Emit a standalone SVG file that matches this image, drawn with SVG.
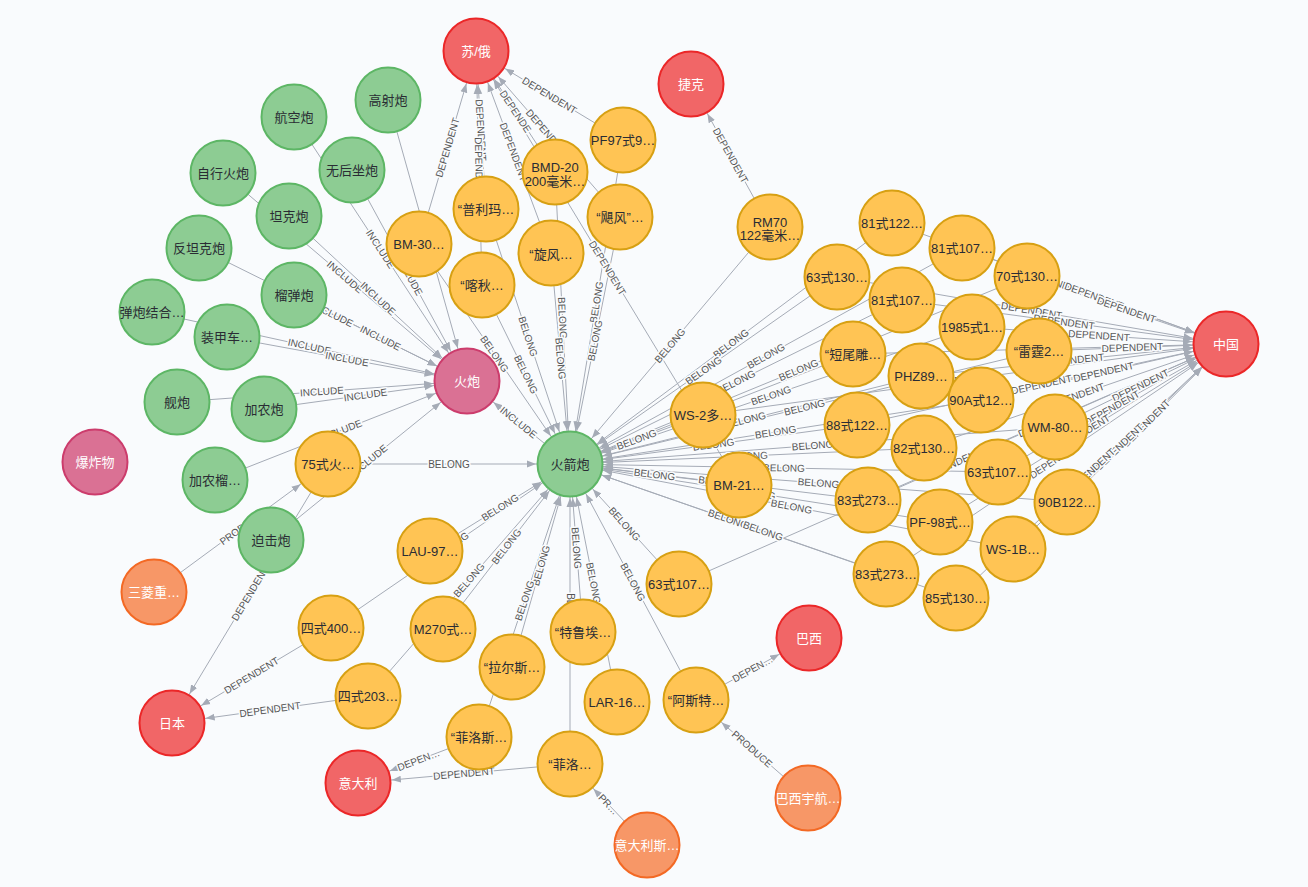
<svg xmlns="http://www.w3.org/2000/svg" width="1308" height="887" viewBox="0 0 1308 887">
<defs>
<marker id="arr" markerUnits="userSpaceOnUse" markerWidth="10" markerHeight="8" refX="43" refY="4" orient="auto"><path d="M0,0.5 L9,4 L0,7.5 Z" fill="#a5abb6"/></marker>
<style>
.e line{stroke:#a5abb6;stroke-width:1;marker-end:url(#arr)}
.lb text{font-family:"Liberation Sans","Noto Sans",sans-serif;font-size:10px;fill:#555;text-anchor:middle;stroke:#f9fbfd;stroke-width:3;paint-order:stroke;stroke-linejoin:round}
.n circle{stroke-width:2}
.n text{font-family:"Liberation Sans","Noto Sans CJK SC",sans-serif;font-size:13px;text-anchor:middle}
.red circle{fill:#f16667;stroke:#eb2728}
.pink circle{fill:#da7194;stroke:#cc3c6c}
.grn circle{fill:#8dcc93;stroke:#5db665}
.org circle{fill:#f79767;stroke:#f36924}
.yel circle{fill:#ffc454;stroke:#d7a013}
.red text,.pink text,.org text{fill:#ffffff}
.grn text,.yel text{fill:#2a2c34}
</style>
</defs>
<rect width="1308" height="887" fill="#f9fbfd"/>
<g id="connectors">
<g class="e">
<line x1="388" y1="100" x2="467" y2="381"/>
<line x1="294" y1="117" x2="467" y2="381"/>
<line x1="223" y1="173" x2="467" y2="381"/>
<line x1="352" y1="170" x2="467" y2="381"/>
<line x1="289" y1="216" x2="467" y2="381"/>
<line x1="199" y1="248" x2="467" y2="381"/>
<line x1="294" y1="295" x2="467" y2="381"/>
<line x1="152" y1="312" x2="467" y2="381"/>
<line x1="227" y1="337" x2="467" y2="381"/>
<line x1="177" y1="402" x2="467" y2="381"/>
<line x1="264" y1="409" x2="467" y2="381"/>
<line x1="215" y1="480" x2="467" y2="381"/>
<line x1="271" y1="540" x2="467" y2="381"/>
<line x1="570" y1="464" x2="467" y2="381"/>
<line x1="328" y1="464" x2="570" y2="464"/>
<line x1="419" y1="244" x2="570" y2="464"/>
<line x1="486" y1="209" x2="570" y2="464"/>
<line x1="482" y1="285" x2="570" y2="464"/>
<line x1="555" y1="172" x2="570" y2="464"/>
<line x1="623" y1="140" x2="570" y2="464"/>
<line x1="620" y1="217" x2="570" y2="464"/>
<line x1="551" y1="253" x2="570" y2="464"/>
<line x1="770" y1="227" x2="570" y2="464"/>
<line x1="892" y1="223" x2="570" y2="464"/>
<line x1="962" y1="248" x2="570" y2="464"/>
<line x1="837" y1="277" x2="570" y2="464"/>
<line x1="1027" y1="276" x2="570" y2="464"/>
<line x1="902" y1="300" x2="570" y2="464"/>
<line x1="972" y1="327" x2="570" y2="464"/>
<line x1="853" y1="354" x2="570" y2="464"/>
<line x1="1039" y1="351" x2="570" y2="464"/>
<line x1="921" y1="376" x2="570" y2="464"/>
<line x1="981" y1="400" x2="570" y2="464"/>
<line x1="703" y1="415" x2="570" y2="464"/>
<line x1="857" y1="425" x2="570" y2="464"/>
<line x1="1055" y1="427" x2="570" y2="464"/>
<line x1="924" y1="448" x2="570" y2="464"/>
<line x1="998" y1="472" x2="570" y2="464"/>
<line x1="739" y1="485" x2="570" y2="464"/>
<line x1="868" y1="500" x2="570" y2="464"/>
<line x1="1067" y1="502" x2="570" y2="464"/>
<line x1="940" y1="522" x2="570" y2="464"/>
<line x1="1013" y1="549" x2="570" y2="464"/>
<line x1="886" y1="574" x2="570" y2="464"/>
<line x1="956" y1="598" x2="570" y2="464"/>
<line x1="679" y1="584" x2="570" y2="464"/>
<line x1="430" y1="551" x2="570" y2="464"/>
<line x1="331" y1="628" x2="570" y2="464"/>
<line x1="443" y1="629" x2="570" y2="464"/>
<line x1="368" y1="696" x2="570" y2="464"/>
<line x1="512" y1="667" x2="570" y2="464"/>
<line x1="583" y1="632" x2="570" y2="464"/>
<line x1="617" y1="702" x2="570" y2="464"/>
<line x1="696" y1="700" x2="570" y2="464"/>
<line x1="479" y1="737" x2="570" y2="464"/>
<line x1="570" y1="764" x2="570" y2="464"/>
<line x1="419" y1="244" x2="476" y2="51"/>
<line x1="486" y1="209" x2="476" y2="51"/>
<line x1="482" y1="285" x2="476" y2="51"/>
<line x1="555" y1="172" x2="476" y2="51"/>
<line x1="551" y1="253" x2="476" y2="51"/>
<line x1="620" y1="217" x2="476" y2="51"/>
<line x1="623" y1="140" x2="476" y2="51"/>
<line x1="739" y1="485" x2="476" y2="51"/>
<line x1="770" y1="227" x2="691" y2="84"/>
<line x1="328" y1="464" x2="172" y2="723"/>
<line x1="331" y1="628" x2="172" y2="723"/>
<line x1="368" y1="696" x2="172" y2="723"/>
<line x1="479" y1="737" x2="358" y2="783"/>
<line x1="570" y1="764" x2="358" y2="783"/>
<line x1="696" y1="700" x2="809" y2="638"/>
<line x1="892" y1="223" x2="1226" y2="344"/>
<line x1="962" y1="248" x2="1226" y2="344"/>
<line x1="837" y1="277" x2="1226" y2="344"/>
<line x1="1027" y1="276" x2="1226" y2="344"/>
<line x1="902" y1="300" x2="1226" y2="344"/>
<line x1="972" y1="327" x2="1226" y2="344"/>
<line x1="853" y1="354" x2="1226" y2="344"/>
<line x1="1039" y1="351" x2="1226" y2="344"/>
<line x1="921" y1="376" x2="1226" y2="344"/>
<line x1="981" y1="400" x2="1226" y2="344"/>
<line x1="703" y1="415" x2="1226" y2="344"/>
<line x1="857" y1="425" x2="1226" y2="344"/>
<line x1="1055" y1="427" x2="1226" y2="344"/>
<line x1="924" y1="448" x2="1226" y2="344"/>
<line x1="998" y1="472" x2="1226" y2="344"/>
<line x1="868" y1="500" x2="1226" y2="344"/>
<line x1="1067" y1="502" x2="1226" y2="344"/>
<line x1="940" y1="522" x2="1226" y2="344"/>
<line x1="1013" y1="549" x2="1226" y2="344"/>
<line x1="886" y1="574" x2="1226" y2="344"/>
<line x1="956" y1="598" x2="1226" y2="344"/>
<line x1="679" y1="584" x2="1226" y2="344"/>
<line x1="154" y1="592" x2="328" y2="464"/>
<line x1="647" y1="845" x2="570" y2="764"/>
<line x1="808" y1="798" x2="696" y2="700"/>
</g>
<g class="lb">
<text transform="translate(427.5,241) rotate(74.2)" dy="3.5">INCLUDE</text>
<text transform="translate(380.5,249) rotate(56.8)" dy="3.5">INCLUDE</text>
<text transform="translate(345,277) rotate(40.4)" dy="3.5">INCLUDE</text>
<text transform="translate(409.5,275.5) rotate(61.4)" dy="3.5">INCLUDE</text>
<text transform="translate(378,298.5) rotate(42.8)" dy="3.5">INCLUDE</text>
<text transform="translate(333,314.5) rotate(26.4)" dy="3.5">INCLUDE</text>
<text transform="translate(380.5,338) rotate(26.4)" dy="3.5">INCLUDE</text>
<text transform="translate(309.5,346.5) rotate(12.4)" dy="3.5">INCLUDE</text>
<text transform="translate(347,359) rotate(10.4)" dy="3.5">INCLUDE</text>
<text transform="translate(322,391.5) rotate(-4.1)" dy="3.5">INCLUDE</text>
<text transform="translate(365.5,395) rotate(-7.9)" dy="3.5">INCLUDE</text>
<text transform="translate(341,430.5) rotate(-21.4)" dy="3.5">INCLUDE</text>
<text transform="translate(369,460.5) rotate(-39.1)" dy="3.5">INCLUDE</text>
<text transform="translate(518.5,422.5) rotate(38.9)" dy="3.5">INCLUDE</text>
<text transform="translate(449,464) rotate(0)" dy="3.5">BELONG</text>
<text transform="translate(494.5,354) rotate(55.5)" dy="3.5">BELONG</text>
<text transform="translate(528,336.5) rotate(71.8)" dy="3.5">BELONG</text>
<text transform="translate(526,374.5) rotate(63.8)" dy="3.5">BELONG</text>
<text transform="translate(562.5,318) rotate(87.1)" dy="3.5">BELONG</text>
<text transform="translate(596.5,302) rotate(-80.7)" dy="3.5">BELONG</text>
<text transform="translate(595,340.5) rotate(-78.6)" dy="3.5">BELONG</text>
<text transform="translate(560.5,358.5) rotate(84.9)" dy="3.5">BELONG</text>
<text transform="translate(670,345.5) rotate(-49.8)" dy="3.5">BELONG</text>
<text transform="translate(731,343.5) rotate(-36.8)" dy="3.5">BELONG</text>
<text transform="translate(766,356) rotate(-28.9)" dy="3.5">BELONG</text>
<text transform="translate(703.5,370.5) rotate(-35)" dy="3.5">BELONG</text>
<text transform="translate(798.5,370) rotate(-22.4)" dy="3.5">BELONG</text>
<text transform="translate(736,382) rotate(-26.3)" dy="3.5">BELONG</text>
<text transform="translate(771,395.5) rotate(-18.8)" dy="3.5">BELONG</text>
<text transform="translate(711.5,409) rotate(-21.2)" dy="3.5">BELONG</text>
<text transform="translate(804.5,407.5) rotate(-13.5)" dy="3.5">BELONG</text>
<text transform="translate(745.5,420) rotate(-14.1)" dy="3.5">BELONG</text>
<text transform="translate(775.5,432) rotate(-8.9)" dy="3.5">BELONG</text>
<text transform="translate(636.5,439.5) rotate(-20.2)" dy="3.5">BELONG</text>
<text transform="translate(713.5,444.5) rotate(-7.7)" dy="3.5">BELONG</text>
<text transform="translate(812.5,445.5) rotate(-4.4)" dy="3.5">BELONG</text>
<text transform="translate(747,456) rotate(-2.6)" dy="3.5">BELONG</text>
<text transform="translate(784,468) rotate(1.1)" dy="3.5">BELONG</text>
<text transform="translate(654.5,474.5) rotate(7.1)" dy="3.5">BELONG</text>
<text transform="translate(719,482) rotate(6.9)" dy="3.5">BELONG</text>
<text transform="translate(818.5,483) rotate(4.4)" dy="3.5">BELONG</text>
<text transform="translate(755,493) rotate(8.9)" dy="3.5">BELONG</text>
<text transform="translate(791.5,506.5) rotate(10.9)" dy="3.5">BELONG</text>
<text transform="translate(728,519) rotate(19.2)" dy="3.5">BELONG</text>
<text transform="translate(763,531) rotate(19.1)" dy="3.5">BELONG</text>
<text transform="translate(624.5,524) rotate(47.8)" dy="3.5">BELONG</text>
<text transform="translate(500,507.5) rotate(-31.9)" dy="3.5">BELONG</text>
<text transform="translate(450.5,546) rotate(-34.5)" dy="3.5">BELONG</text>
<text transform="translate(506.5,546.5) rotate(-52.4)" dy="3.5">BELONG</text>
<text transform="translate(469,580) rotate(-48.9)" dy="3.5">BELONG</text>
<text transform="translate(541,565.5) rotate(-74.1)" dy="3.5">BELONG</text>
<text transform="translate(576.5,548) rotate(85.6)" dy="3.5">BELONG</text>
<text transform="translate(593.5,583) rotate(78.8)" dy="3.5">BELONG</text>
<text transform="translate(633,582) rotate(61.9)" dy="3.5">BELONG</text>
<text transform="translate(524.5,600.5) rotate(-71.6)" dy="3.5">BELONG</text>
<text transform="translate(570,614) rotate(90)" dy="3.5">BELONG</text>
<text transform="translate(447.5,147.5) rotate(-73.5)" dy="3.5">DEPENDENT</text>
<text transform="translate(481,130) rotate(86.4)" dy="3.5">DEPENDENT</text>
<text transform="translate(479,168) rotate(88.5)" dy="3.5">DEPENDENT</text>
<text transform="translate(515.5,111.5) rotate(56.9)" dy="3.5">DEPENDE</text>
<text transform="translate(513.5,152) rotate(69.6)" dy="3.5">DEPENDENT</text>
<text transform="translate(548,134) rotate(49.1)" dy="3.5">DEPENDENT</text>
<text transform="translate(549.5,95.5) rotate(31.2)" dy="3.5">DEPENDENT</text>
<text transform="translate(607.5,268) rotate(58.8)" dy="3.5">DEPENDENT</text>
<text transform="translate(730.5,155.5) rotate(61.1)" dy="3.5">DEPENDENT</text>
<text transform="translate(250,593.5) rotate(-58.9)" dy="3.5">DEPENDENT</text>
<text transform="translate(251.5,675.5) rotate(-30.9)" dy="3.5">DEPENDENT</text>
<text transform="translate(270,709.5) rotate(-7.8)" dy="3.5">DEPENDENT</text>
<text transform="translate(418.5,760) rotate(-20.8)" dy="3.5">DEPEN…</text>
<text transform="translate(464,773.5) rotate(-5.1)" dy="3.5">DEPENDENT</text>
<text transform="translate(752.5,669) rotate(-28.8)" dy="3.5">DEPEN…</text>
<text transform="translate(1059,283.5) rotate(20.1)" dy="3.5">DEPENDENT</text>
<text transform="translate(1094,296) rotate(20.2)" dy="3.5">DEPENDENT</text>
<text transform="translate(1031.5,310.5) rotate(9.8)" dy="3.5">DEPENDENT</text>
<text transform="translate(1126.5,310) rotate(18.9)" dy="3.5">DEPENDENT</text>
<text transform="translate(1064,322) rotate(7.7)" dy="3.5">DEPENDENT</text>
<text transform="translate(1099,335.5) rotate(3.8)" dy="3.5">DEPENDENT</text>
<text transform="translate(1039.5,349) rotate(-1.5)" dy="3.5">DEPENDENT</text>
<text transform="translate(1132.5,347.5) rotate(-2.1)" dy="3.5">DEPENDENT</text>
<text transform="translate(1073.5,360) rotate(-6)" dy="3.5">DEPENDENT</text>
<text transform="translate(1103.5,372) rotate(-12.9)" dy="3.5">DEPENDENT</text>
<text transform="translate(964.5,379.5) rotate(-7.7)" dy="3.5">DEPENDENT</text>
<text transform="translate(1041.5,384.5) rotate(-12.3)" dy="3.5">DEPENDENT</text>
<text transform="translate(1140.5,385.5) rotate(-25.9)" dy="3.5">DEPENDENT</text>
<text transform="translate(1075,396) rotate(-19)" dy="3.5">DEPENDENT</text>
<text transform="translate(1112,408) rotate(-29.3)" dy="3.5">DEPENDENT</text>
<text transform="translate(1047,422) rotate(-23.5)" dy="3.5">DEPENDENT</text>
<text transform="translate(1146.5,423) rotate(-44.8)" dy="3.5">DEPENDENT</text>
<text transform="translate(1083,433) rotate(-31.9)" dy="3.5">DEPENDENT</text>
<text transform="translate(1119.5,446.5) rotate(-43.9)" dy="3.5">DEPENDENT</text>
<text transform="translate(1056,459) rotate(-34)" dy="3.5">DEPENDENT</text>
<text transform="translate(1091,471) rotate(-43.2)" dy="3.5">DEPENDENT</text>
<text transform="translate(952.5,464) rotate(-23.7)" dy="3.5">DEPENDENT</text>
<text transform="translate(241,528) rotate(-36.3)" dy="3.5">PRODUCE</text>
<text transform="translate(608.5,804.5) rotate(46.5)" dy="3.5">PR…</text>
<text transform="translate(752,749) rotate(41.2)" dy="3.5">PRODUCE</text>
</g>
</g>
<g id="nodes">
<g id="n-su" class="n red"><circle cx="476" cy="51" r="32.5"/><text x="476" y="55.5">苏/俄</text></g>
<g id="n-cz" class="n red"><circle cx="691" cy="84" r="32.5"/><text x="691" y="88.5">捷克</text></g>
<g id="n-cn" class="n red"><circle cx="1226" cy="344" r="32.5"/><text x="1226" y="348.5">中国</text></g>
<g id="n-jp" class="n red"><circle cx="172" cy="723" r="32.5"/><text x="172" y="727.5">日本</text></g>
<g id="n-it" class="n red"><circle cx="358" cy="783" r="32.5"/><text x="358" y="787.5">意大利</text></g>
<g id="n-br" class="n red"><circle cx="809" cy="638" r="32.5"/><text x="809" y="642.5">巴西</text></g>
<g id="n-huopao" class="n pink"><circle cx="467" cy="381" r="32.5"/><text x="467" y="385.5">火炮</text></g>
<g id="n-baozha" class="n pink"><circle cx="95" cy="462" r="32.5"/><text x="95" y="466.5">爆炸物</text></g>
<g id="n-hjp" class="n grn"><circle cx="570" cy="464" r="32.5"/><text x="570" y="468.5">火箭炮</text></g>
<g id="n-gsp" class="n grn"><circle cx="388" cy="100" r="32.5"/><text x="388" y="104.5">高射炮</text></g>
<g id="n-hkp" class="n grn"><circle cx="294" cy="117" r="32.5"/><text x="294" y="121.5">航空炮</text></g>
<g id="n-zxhp" class="n grn"><circle cx="223" cy="173" r="32.5"/><text x="223" y="177.5">自行火炮</text></g>
<g id="n-whzp" class="n grn"><circle cx="352" cy="170" r="32.5"/><text x="352" y="174.5">无后坐炮</text></g>
<g id="n-tkp" class="n grn"><circle cx="289" cy="216" r="32.5"/><text x="289" y="220.5">坦克炮</text></g>
<g id="n-ftkp" class="n grn"><circle cx="199" cy="248" r="32.5"/><text x="199" y="252.5">反坦克炮</text></g>
<g id="n-ldp" class="n grn"><circle cx="294" cy="295" r="32.5"/><text x="294" y="299.5">榴弹炮</text></g>
<g id="n-dpjh" class="n grn"><circle cx="152" cy="312" r="32.5"/><text x="152" y="316.5">弹炮结合…</text></g>
<g id="n-zjc" class="n grn"><circle cx="227" cy="337" r="32.5"/><text x="227" y="341.5">装甲车…</text></g>
<g id="n-jianp" class="n grn"><circle cx="177" cy="402" r="32.5"/><text x="177" y="406.5">舰炮</text></g>
<g id="n-jnp" class="n grn"><circle cx="264" cy="409" r="32.5"/><text x="264" y="413.5">加农炮</text></g>
<g id="n-jnl" class="n grn"><circle cx="215" cy="480" r="32.5"/><text x="215" y="484.5">加农榴…</text></g>
<g id="n-pjp" class="n grn"><circle cx="271" cy="540" r="32.5"/><text x="271" y="544.5">迫击炮</text></g>
<g id="n-sl" class="n org"><circle cx="154" cy="592" r="32.5"/><text x="154" y="596.5">三菱重…</text></g>
<g id="n-itc" class="n org"><circle cx="647" cy="845" r="32.5"/><text x="647" y="849.5">意大利斯…</text></g>
<g id="n-brc" class="n org"><circle cx="808" cy="798" r="32.5"/><text x="808" y="802.5">巴西宇航…</text></g>
<g id="n-bm30" class="n yel"><circle cx="419" cy="244" r="32.5"/><text x="419" y="248.5">BM-30…</text></g>
<g id="n-plm" class="n yel"><circle cx="486" cy="209" r="32.5"/><text x="486" y="213.5">“普利玛…</text></g>
<g id="n-kq" class="n yel"><circle cx="482" cy="285" r="32.5"/><text x="482" y="289.5">“喀秋…</text></g>
<g id="n-bmd20" class="n yel"><circle cx="555" cy="172" r="32.5"/><text x="555" y="172">BMD-20</text><text x="555" y="186">200毫米…</text></g>
<g id="n-pf97" class="n yel"><circle cx="623" cy="140" r="32.5"/><text x="623" y="144.5">PF97式9…</text></g>
<g id="n-jf" class="n yel"><circle cx="620" cy="217" r="32.5"/><text x="620" y="221.5">“飓风”…</text></g>
<g id="n-xf" class="n yel"><circle cx="551" cy="253" r="32.5"/><text x="551" y="259">“旋风…</text></g>
<g id="n-rm70" class="n yel"><circle cx="770" cy="227" r="32.5"/><text x="770" y="227">RM70</text><text x="770" y="240">122毫米…</text></g>
<g id="n-81-122" class="n yel"><circle cx="892" cy="223" r="32.5"/><text x="892" y="227.5">81式122…</text></g>
<g id="n-81-107a" class="n yel"><circle cx="962" cy="248" r="32.5"/><text x="962" y="252.5">81式107…</text></g>
<g id="n-63-130" class="n yel"><circle cx="837" cy="277" r="32.5"/><text x="837" y="281.5">63式130…</text></g>
<g id="n-70-130" class="n yel"><circle cx="1027" cy="276" r="32.5"/><text x="1027" y="280.5">70式130…</text></g>
<g id="n-81-107b" class="n yel"><circle cx="902" cy="300" r="32.5"/><text x="902" y="304.5">81式107…</text></g>
<g id="n-1985" class="n yel"><circle cx="972" cy="327" r="32.5"/><text x="972" y="331.5">1985式1…</text></g>
<g id="n-dwd" class="n yel"><circle cx="853" cy="354" r="32.5"/><text x="853" y="358.5">“短尾雕…</text></g>
<g id="n-lt2" class="n yel"><circle cx="1039" cy="351" r="32.5"/><text x="1039" y="355.5">“雷霆2…</text></g>
<g id="n-phz89" class="n yel"><circle cx="921" cy="376" r="32.5"/><text x="921" y="380.5">PHZ89…</text></g>
<g id="n-90a" class="n yel"><circle cx="981" cy="400" r="32.5"/><text x="981" y="404.5">90A式12…</text></g>
<g id="n-ws2" class="n yel"><circle cx="703" cy="415" r="32.5"/><text x="703" y="419.5">WS-2多…</text></g>
<g id="n-88-122" class="n yel"><circle cx="857" cy="425" r="32.5"/><text x="857" y="429.5">88式122…</text></g>
<g id="n-wm80" class="n yel"><circle cx="1055" cy="427" r="32.5"/><text x="1055" y="431.5">WM-80…</text></g>
<g id="n-82-130" class="n yel"><circle cx="924" cy="448" r="32.5"/><text x="924" y="452.5">82式130…</text></g>
<g id="n-63-107a" class="n yel"><circle cx="998" cy="472" r="32.5"/><text x="998" y="476.5">63式107…</text></g>
<g id="n-bm21" class="n yel"><circle cx="739" cy="485" r="32.5"/><text x="739" y="489.5">BM-21…</text></g>
<g id="n-83-273a" class="n yel"><circle cx="868" cy="500" r="32.5"/><text x="868" y="504.5">83式273…</text></g>
<g id="n-90b" class="n yel"><circle cx="1067" cy="502" r="32.5"/><text x="1067" y="506.5">90B122…</text></g>
<g id="n-pf98" class="n yel"><circle cx="940" cy="522" r="32.5"/><text x="940" y="526.5">PF-98式…</text></g>
<g id="n-ws1b" class="n yel"><circle cx="1013" cy="549" r="32.5"/><text x="1013" y="553.5">WS-1B…</text></g>
<g id="n-83-273b" class="n yel"><circle cx="886" cy="574" r="32.5"/><text x="886" y="578.5">83式273…</text></g>
<g id="n-85-130" class="n yel"><circle cx="956" cy="598" r="32.5"/><text x="956" y="602.5">85式130…</text></g>
<g id="n-63-107b" class="n yel"><circle cx="679" cy="584" r="32.5"/><text x="679" y="588.5">63式107…</text></g>
<g id="n-75" class="n yel"><circle cx="328" cy="464" r="32.5"/><text x="328" y="468.5">75式火…</text></g>
<g id="n-lau97" class="n yel"><circle cx="430" cy="551" r="32.5"/><text x="430" y="555.5">LAU-97…</text></g>
<g id="n-4-400" class="n yel"><circle cx="331" cy="628" r="32.5"/><text x="331" y="632.5">四式400…</text></g>
<g id="n-m270" class="n yel"><circle cx="443" cy="629" r="32.5"/><text x="443" y="633.5">M270式…</text></g>
<g id="n-4-203" class="n yel"><circle cx="368" cy="696" r="32.5"/><text x="368" y="700.5">四式203…</text></g>
<g id="n-les" class="n yel"><circle cx="512" cy="667" r="32.5"/><text x="512" y="671.5">“拉尔斯…</text></g>
<g id="n-tla" class="n yel"><circle cx="583" cy="632" r="32.5"/><text x="583" y="636.5">“特鲁埃…</text></g>
<g id="n-lar16" class="n yel"><circle cx="617" cy="702" r="32.5"/><text x="617" y="706.5">LAR-16…</text></g>
<g id="n-ast" class="n yel"><circle cx="696" cy="700" r="32.5"/><text x="696" y="704.5">“阿斯特…</text></g>
<g id="n-fls" class="n yel"><circle cx="479" cy="737" r="32.5"/><text x="479" y="741.5">“菲洛斯…</text></g>
<g id="n-fl" class="n yel"><circle cx="570" cy="764" r="32.5"/><text x="570" y="768.5">“菲洛…</text></g>
</g>
</svg>
